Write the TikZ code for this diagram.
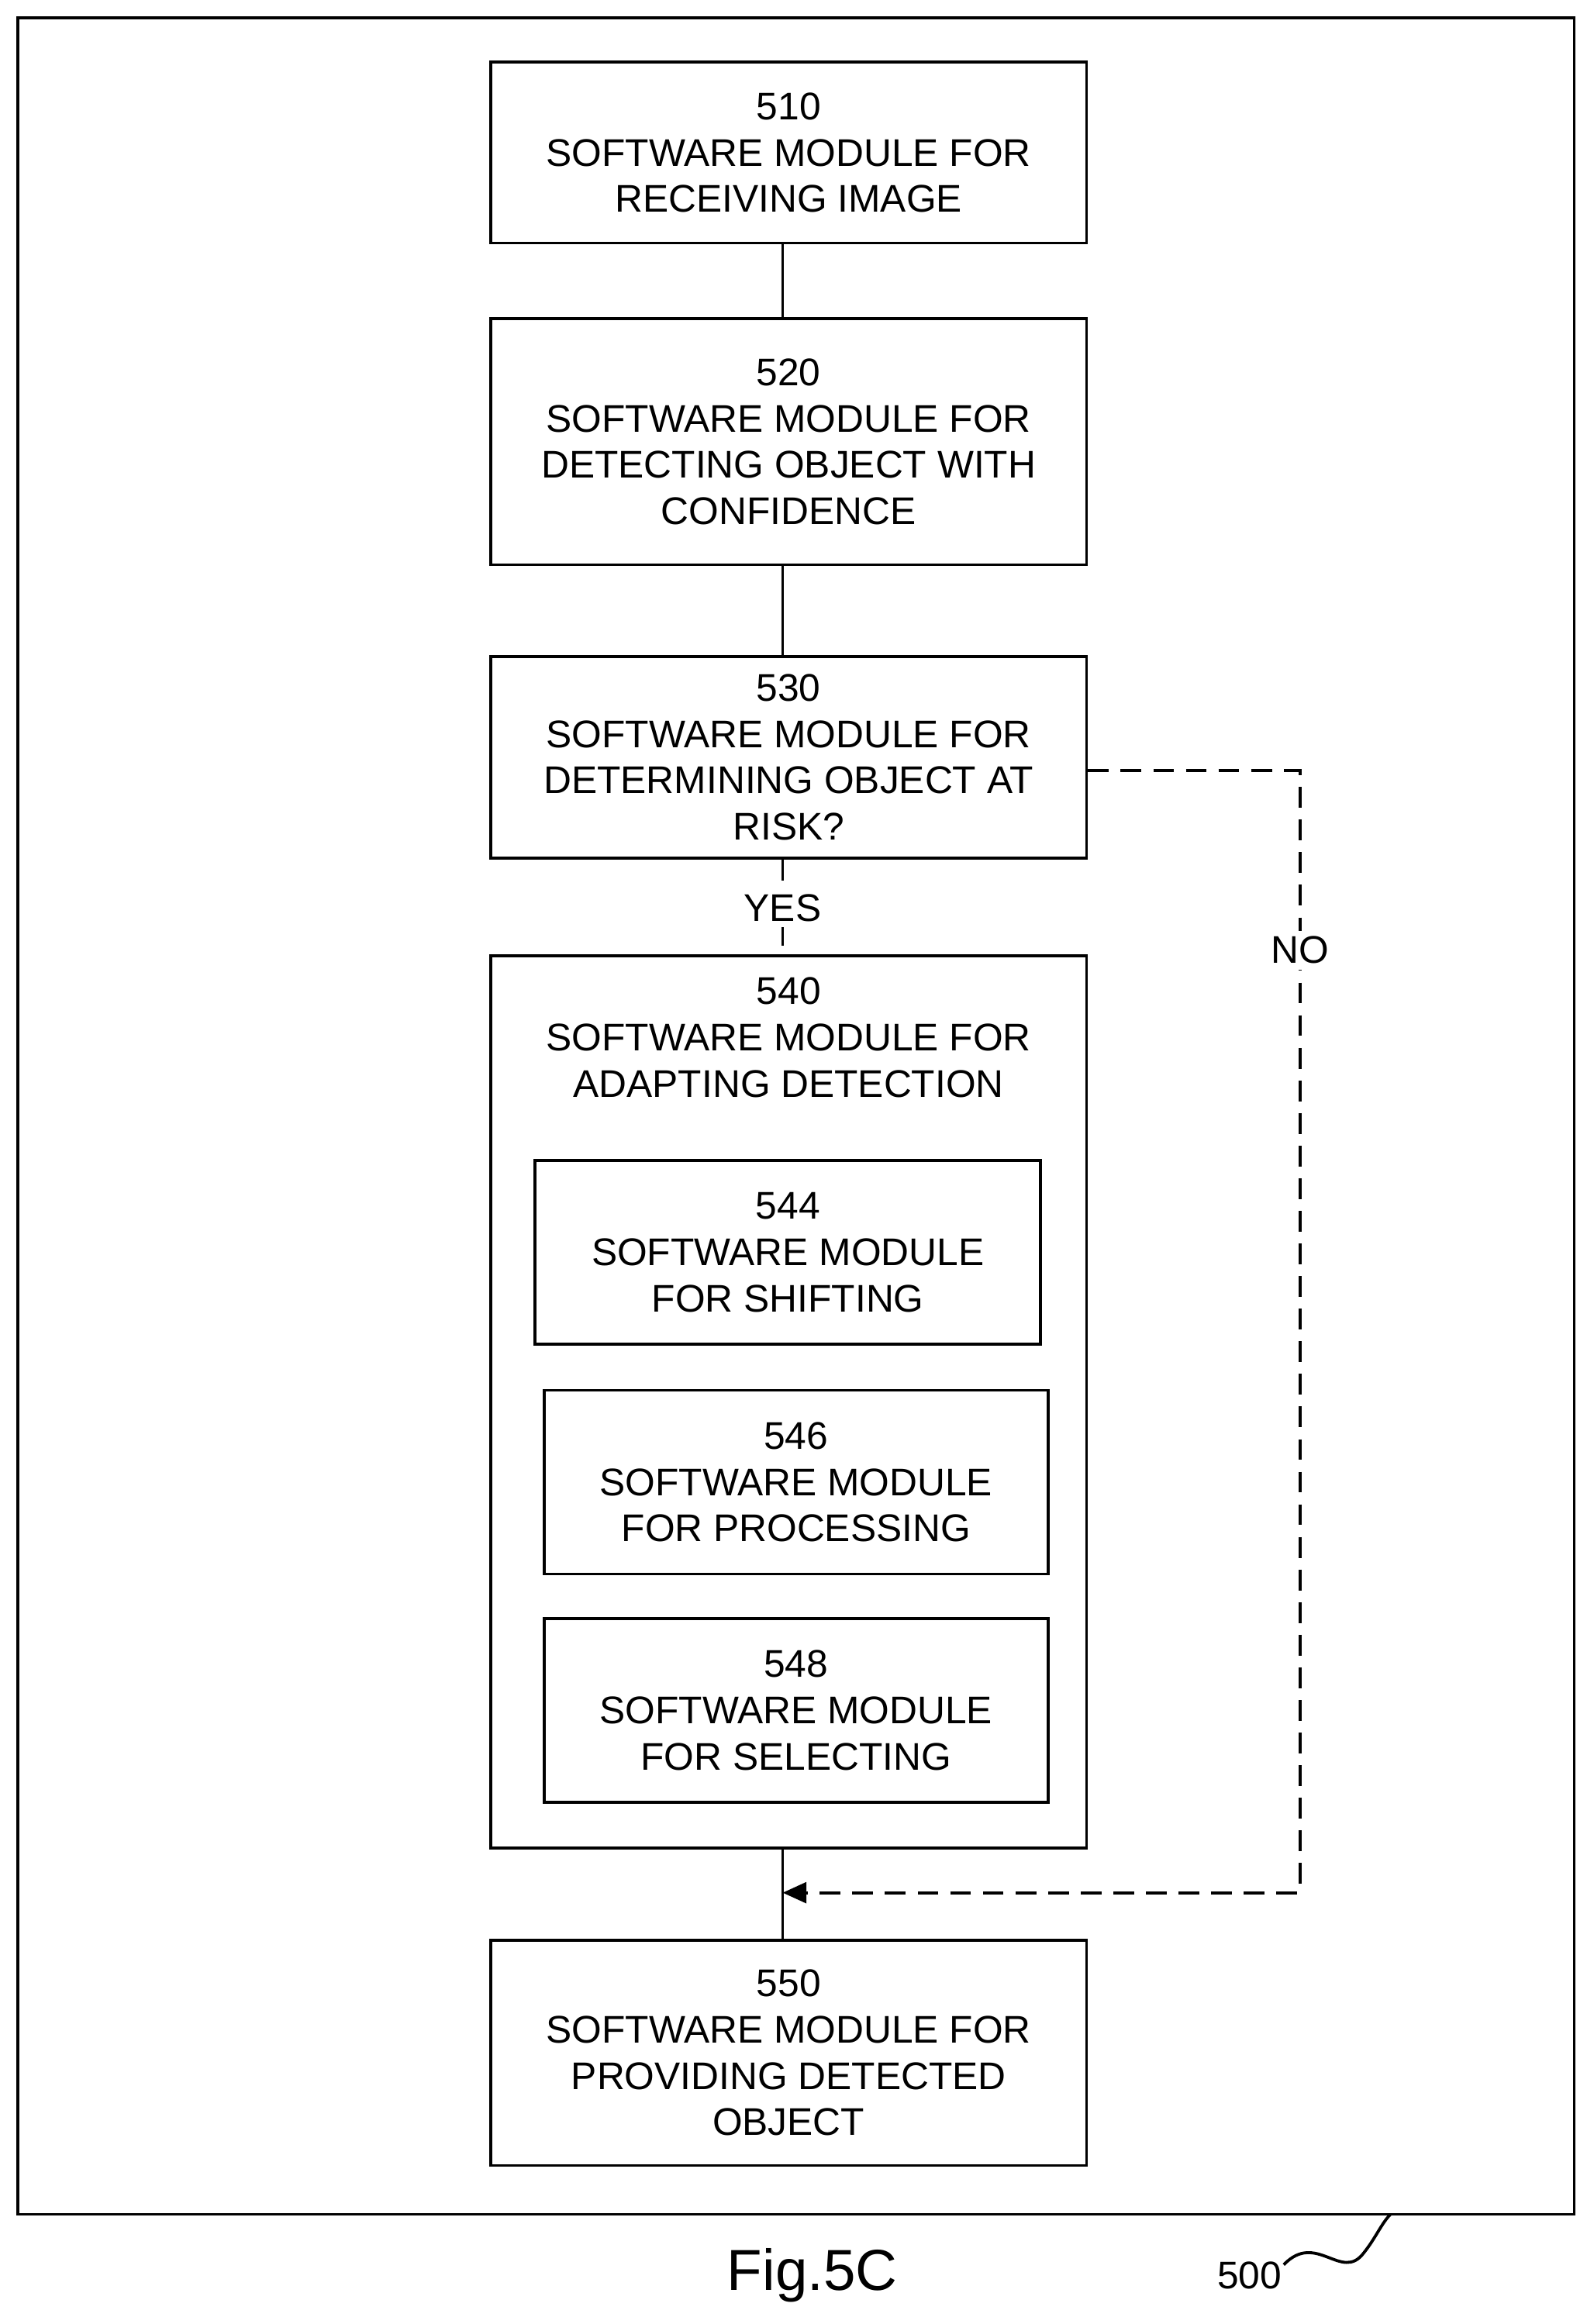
\documentclass[tikz,border=0pt]{standalone}
\usepackage{fontspec}
\setmainfont{Liberation Sans}
\usetikzlibrary{arrows.meta}
\begin{document}
\begin{tikzpicture}[x=0.5pt,y=-0.5pt,
		box/.style={draw,line width=1pt,align=center,inner sep=0pt,font=\fontsize{13}{15.6}\selectfont},
		lbl/.style={fill=white,inner sep=2pt,font=\fontsize{13}{15.6}\selectfont},
		dsh/.style={line width=1pt,dash pattern=on 7pt off 4pt}]
		\useasboundingbox (0,0) rectangle (1075,1568);
		\draw [line width=1pt] (12,12) rectangle (1062,1494);
		% main modules
		\node [box,minimum width=201pt,minimum height=61pt] (m510) at (532,103) {510\\SOFTWARE MODULE FOR\\RECEIVING IMAGE};
		\node [box,minimum width=201pt,minimum height=83pt] (m520) at (532,298) {520\\SOFTWARE MODULE FOR\\DETECTING OBJECT WITH\\CONFIDENCE};
		\node [box,minimum width=201pt,minimum height=68pt] (m530) at (532,511) {530\\SOFTWARE MODULE FOR\\DETERMINING OBJECT AT\\RISK?};
		\draw [line width=1pt] (331,645) rectangle (733,1247);
		\node [align=center,inner sep=0pt,font=\fontsize{13}{15.6}\selectfont] (m540) at (532,700) {540\\SOFTWARE MODULE FOR\\ADAPTING DETECTION};
		\coordinate (t540) at (528,645);
		\coordinate (b540) at (528,1247);
		\node [box,minimum width=170.5pt,minimum height=62pt] (m544) at (531.5,845) {544\\SOFTWARE MODULE\\FOR SHIFTING};
		\node [box,minimum width=170pt,minimum height=62pt] (m546) at (537,1000) {546\\SOFTWARE MODULE\\FOR PROCESSING};
		\node [box,minimum width=170pt,minimum height=62pt] (m548) at (537,1154) {548\\SOFTWARE MODULE\\FOR SELECTING};
		\node [box,minimum width=201pt,minimum height=76pt] (m550) at (532,1385) {550\\SOFTWARE MODULE FOR\\PROVIDING DETECTED\\OBJECT};
		% connectors
		\draw [line width=1pt] (m510.south -| 528,0) -- (m520.north -| 528,0);
		\draw [line width=1pt] (m520.south -| 528,0) -- (m530.north -| 528,0);
		\draw [dsh] (m530.south -| 528,0) -- node [lbl] (yes) {YES} (t540);
		\draw [line width=1pt] (b540) -- (m550.north -| 528,0);
		\coordinate (join) at (528,1277);
		\coordinate (turn) at (877,520);
		\draw [dsh,-{Triangle[length=8pt,width=7pt]}] (m530.east |- turn) -- (turn) -- node [lbl,pos=0.16] (no) {NO} (877,1277) -- (join);
		% caption
		\node [font=\fontsize{19.5}{22}\selectfont] (fig) at (548,1535) {Fig.5C};
		\node [font=\fontsize{13}{15.6}\selectfont] (ref) at (843,1535) {500};
		\draw [line width=1pt] (866,1528) .. controls (888,1505) and (905,1540) .. (920,1520) .. controls (928,1510) and (932,1500) .. (938,1494);
	\end{tikzpicture}
\end{document}
